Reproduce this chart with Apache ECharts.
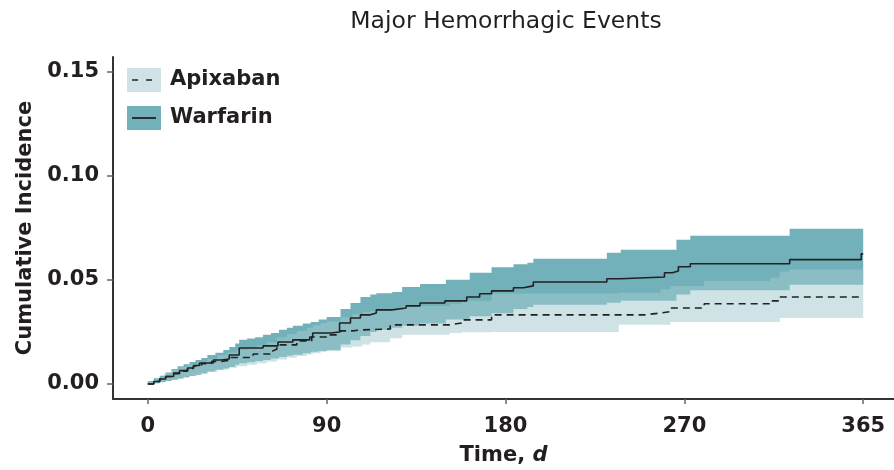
<!DOCTYPE html>
<html>
<head>
<meta charset="utf-8">
<script src="https://cdn.jsdelivr.net/npm/echarts@6/dist/echarts.min.js"></script>
<style>
  html, body { margin: 0; padding: 0; background: #ffffff; }
  #chart { width: 894px; height: 470px; }
</style>
</head>
<body>
<div id="chart"></div>
<script>
// Kaplan-Meier style cumulative incidence of major hemorrhagic events.
const chartTitle = 'Major Hemorrhagic Events';
const seriesNames = ['Apixaban', 'Warfarin'];

// Axis ticks
const xTickValues = [0, 90, 180, 270, 360];
const xTickLabels = ['0', '90', '180', '270', '365'];
const yTickValues = [0, 0.05, 0.10, 0.15];
const yTickLabels = ['0.00', '0.05', '0.10', '0.15'];

// Warfarin point estimate (step changes: day, cumulative incidence)
const warfarinDays = [0, 3, 6, 9, 13, 16, 20, 23, 26, 33, 37, 41, 46, 58, 65.5, 73, 81.5, 83, 92, 96.5, 102, 107, 112, 115, 123, 130, 137, 149.5, 160.5, 167, 173, 184, 189, 194, 231, 238, 260, 264, 267, 273, 323, 359, 360];
const warfarinEst = [0, 0.0012, 0.0024, 0.0036, 0.0053, 0.0064, 0.0077, 0.0089, 0.0101, 0.0115, 0.0120, 0.0139, 0.0173, 0.0183, 0.0202, 0.0212, 0.0226, 0.0245, 0.0250, 0.0293, 0.0317, 0.0332, 0.0341, 0.0356, 0.0365, 0.0375, 0.0389, 0.0399, 0.0418, 0.0433, 0.0447, 0.0462, 0.0471, 0.0490, 0.0505, 0.0514, 0.0534, 0.0543, 0.0563, 0.0577, 0.0597, 0.0625, 0.0625];

// Apixaban point estimate
const apixabanDays = [0, 3, 6, 9, 13, 16, 20, 23, 27, 32, 37, 42, 53, 61.5, 63, 65, 75, 82.5, 90, 95, 97, 103, 108, 122, 152, 158, 173, 250, 258, 263, 280, 313, 318, 360];
const apixabanEst = [0, 0.0012, 0.0024, 0.0036, 0.0050, 0.0062, 0.0075, 0.0087, 0.0098, 0.0108, 0.0116, 0.0127, 0.0144, 0.0159, 0.0168, 0.0188, 0.0207, 0.0226, 0.0236, 0.0245, 0.0255, 0.0260, 0.0264, 0.0284, 0.0293, 0.0308, 0.0332, 0.0341, 0.0348, 0.0365, 0.0385, 0.0399, 0.0418, 0.0418];

// Warfarin 95% confidence band
const warfarinBandDays = [0, 3, 6, 9, 12, 15, 18, 21, 24, 27, 30, 34, 38, 41, 44, 46, 50, 54, 58, 62, 66, 70, 73, 78, 82, 86, 90, 97, 102, 107, 112, 115, 123, 128, 137, 150, 162, 173, 184, 191, 194, 231, 238, 266, 273, 323, 360];
const warfarinUpper = [0.0015, 0.0028, 0.0040, 0.0055, 0.0072, 0.0085, 0.0095, 0.0106, 0.0115, 0.0125, 0.0139, 0.0150, 0.0163, 0.0178, 0.0195, 0.0212, 0.0218, 0.0225, 0.0236, 0.0245, 0.0260, 0.0270, 0.0280, 0.0290, 0.0298, 0.0310, 0.0322, 0.0360, 0.0389, 0.0418, 0.0430, 0.0436, 0.0442, 0.0466, 0.0480, 0.0500, 0.0534, 0.0560, 0.0575, 0.0582, 0.0601, 0.0630, 0.0644, 0.0692, 0.0712, 0.0745, 0.0745];
const warfarinLower = [0, 0.0004, 0.0010, 0.0015, 0.0020, 0.0026, 0.0032, 0.0038, 0.0045, 0.0052, 0.0060, 0.0068, 0.0075, 0.0082, 0.0092, 0.0100, 0.0105, 0.0110, 0.0115, 0.0122, 0.0130, 0.0136, 0.0140, 0.0148, 0.0155, 0.0158, 0.0162, 0.0190, 0.0210, 0.0230, 0.0250, 0.0260, 0.0270, 0.0280, 0.0290, 0.0310, 0.0325, 0.0340, 0.0360, 0.0370, 0.0380, 0.0390, 0.0400, 0.0430, 0.0450, 0.0476, 0.0476];

// Apixaban 95% confidence band
const apixabanBandDays = [0, 4, 8, 12, 16, 20, 25, 30, 35, 40, 45, 50, 55, 60, 65, 70, 75, 80, 83, 87, 90, 97, 103, 108, 112, 122, 128, 152, 158, 173, 237, 258, 263, 280, 313, 318, 323, 360];
const apixabanUpper = [0.0012, 0.0030, 0.0050, 0.0068, 0.0082, 0.0095, 0.0108, 0.0120, 0.0138, 0.0150, 0.0165, 0.0175, 0.0185, 0.0200, 0.0225, 0.0240, 0.0255, 0.0270, 0.0282, 0.0292, 0.0300, 0.0320, 0.0335, 0.0345, 0.0350, 0.0360, 0.0375, 0.0385, 0.0400, 0.0435, 0.0438, 0.0455, 0.0470, 0.0495, 0.0510, 0.0540, 0.0550, 0.0550];
const apixabanLower = [0, 0.0006, 0.0014, 0.0022, 0.0030, 0.0038, 0.0048, 0.0058, 0.0068, 0.0078, 0.0085, 0.0093, 0.0100, 0.0108, 0.0118, 0.0126, 0.0135, 0.0142, 0.0148, 0.0155, 0.0160, 0.0175, 0.0180, 0.0190, 0.0200, 0.0220, 0.0236, 0.0245, 0.0248, 0.0250, 0.0284, 0.0284, 0.0298, 0.0298, 0.0298, 0.0317, 0.0317, 0.0317];

const FONT = '"DejaVu Sans", "Noto Sans", sans-serif';
const TEXT = '#231f20';
const WARFARIN_FILL = 'rgb(114,177,185)';
const APIXABAN_FILL = 'rgba(163,201,207,0.52)';

function pairs(xs, ys) { return xs.map((x, i) => [x, ys[i]]); }

// Step-shaped confidence band drawn as one polygon in data coordinates.
function bandSeries(name, days, lower, upper, fill, z) {
  return {
    type: 'custom',
    name: name + ' CI',
    z: z,
    silent: true,
    data: [[days[0], lower[0]]],
    renderItem: function (params, api) {
      const pts = [];
      const n = days.length;
      for (let i = 0; i < n; i++) {
        const next = i + 1 < n ? days[i + 1] : days[i];
        pts.push(api.coord([days[i], upper[i]]));
        pts.push(api.coord([next, upper[i]]));
      }
      for (let i = n - 1; i >= 0; i--) {
        const next = i + 1 < n ? days[i + 1] : days[i];
        pts.push(api.coord([next, lower[i]]));
        pts.push(api.coord([days[i], lower[i]]));
      }
      return { type: 'polygon', shape: { points: pts }, style: { fill: fill } };
    }
  };
}

const chart = echarts.init(document.getElementById('chart'), null, { renderer: 'canvas' });

const labelFont = { fontFamily: FONT, fontSize: 21, fontWeight: 'bold', color: TEXT };

const option = {
  animation: false,
  backgroundColor: '#ffffff',
  grid: { left: 113, right: 0, top: 57, bottom: 71, containLabel: false, outerBoundsMode: 'none' },
  xAxis: {
    type: 'value',
    min: -17.5,
    max: 375.5,
    name: '{n|Time, }{i|d}',
    nameLocation: 'middle',
    nameGap: 46,
    nameTextStyle: {
      rich: {
        n: { fontFamily: FONT, fontSize: 21, fontWeight: 'bold', color: TEXT },
        i: { fontFamily: FONT, fontSize: 21, fontWeight: 'bold', fontStyle: 'italic', color: TEXT }
      }
    },
    axisLine: { onZero: false, lineStyle: { color: '#333', width: 2 } },
    axisTick: { customValues: xTickValues, length: 5, lineStyle: { color: '#666', width: 1.5 } },
    axisLabel: Object.assign({
      customValues: xTickValues,
      formatter: v => xTickLabels[xTickValues.indexOf(v)],
      margin: 17
    }, labelFont),
    splitLine: { show: false }
  },
  yAxis: {
    type: 'value',
    min: -0.0072,
    max: 0.157,
    name: 'Cumulative Incidence',
    nameLocation: 'middle',
    nameGap: 77,
    nameTextStyle: labelFont,
    axisLine: { show: true, onZero: false, lineStyle: { color: '#333', width: 2 } },
    axisTick: { show: true, customValues: yTickValues, length: 6, lineStyle: { color: '#666', width: 1.5 } },
    axisLabel: Object.assign({
      customValues: yTickValues,
      formatter: v => yTickLabels[yTickValues.indexOf(v)],
      margin: 14
    }, labelFont),
    splitLine: { show: false }
  },
  graphic: [
    { type: 'text', x: 506, y: 22, style: { text: chartTitle, align: 'center', verticalAlign: 'middle', fontFamily: FONT, fontSize: 23.5, fontWeight: 'normal', fill: TEXT } },
    // legend
    { type: 'rect', shape: { x: 127, y: 68, width: 34, height: 24 }, style: { fill: APIXABAN_FILL } },
    { type: 'line', shape: { x1: 132, y1: 80, x2: 156, y2: 80 }, style: { stroke: '#222', lineWidth: 1.6, lineDash: [6, 8] } },
    { type: 'text', x: 170, y: 80, style: { text: seriesNames[0], verticalAlign: 'middle', fontFamily: FONT, fontSize: 21, fontWeight: 'bold', fill: TEXT } },
    { type: 'rect', shape: { x: 127, y: 106, width: 34, height: 24 }, style: { fill: WARFARIN_FILL } },
    { type: 'line', shape: { x1: 132, y1: 118, x2: 156, y2: 118 }, style: { stroke: '#222', lineWidth: 1.8 } },
    { type: 'text', x: 170, y: 118, style: { text: seriesNames[1], verticalAlign: 'middle', fontFamily: FONT, fontSize: 21, fontWeight: 'bold', fill: TEXT } }
  ],
  series: [
    bandSeries(seriesNames[1], warfarinBandDays, warfarinLower, warfarinUpper, WARFARIN_FILL, 1),
    bandSeries(seriesNames[0], apixabanBandDays, apixabanLower, apixabanUpper, APIXABAN_FILL, 2),
    {
      type: 'line', name: seriesNames[0], z: 3,
      data: pairs(apixabanDays, apixabanEst),
      step: 'end', showSymbol: false, silent: true,
      lineStyle: { color: '#222', width: 1.6, type: [7, 5] }
    },
    {
      type: 'line', name: seriesNames[1], z: 4,
      data: pairs(warfarinDays, warfarinEst),
      step: 'end', showSymbol: false, silent: true,
      lineStyle: { color: '#222', width: 1.6 }
    }
  ]
};

chart.setOption(option);
</script>
</body>
</html>
